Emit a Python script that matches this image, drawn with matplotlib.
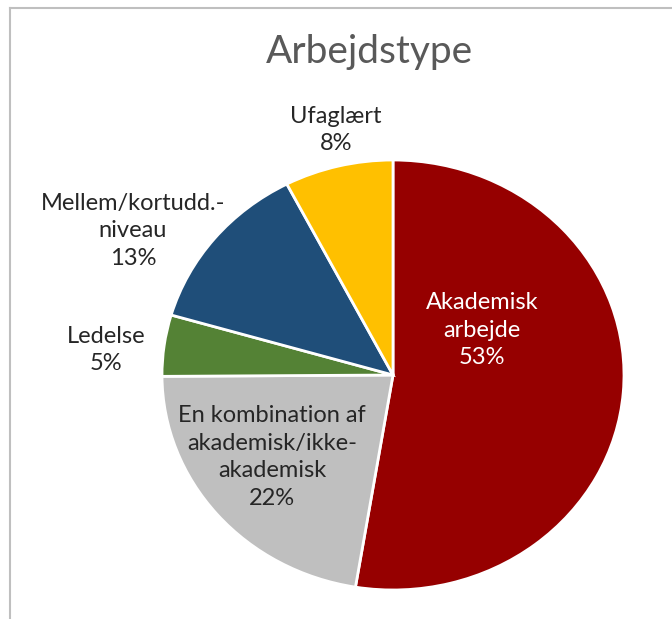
import matplotlib.pyplot as plt
from matplotlib.lines import Line2D

# data
categories = ['Akademisk\narbejde', 'En kombination af\nakademisk/ikke-\nakademisk', 'Ledelse',
              'Mellem/kortudd.-\nniveau', 'Ufaglært']
shares = [52.6, 22.3, 4.6, 12.9, 7.6]
colors = ['#960000', '#BFBFBF', '#548235', '#1F4E79', '#FFC000']
text_colors = ['white', '#262626', '#262626', '#262626', '#262626']
# label centres in axes data units (layout)
label_pos = [(0.385, 0.209), (-0.524, -0.381), (-1.242, 0.116), (-1.126, 0.670), (-0.247, 1.140)]

plt.rcParams['font.family'] = ['Lato', 'DejaVu Sans']

W, H = 672, 619
fig = plt.figure(figsize=(W / 100, H / 100), dpi=100)

# pie is stretched a bit horizontally like in the original
cx, cy, rx, ry = 393, 375, 231, 215
ax = fig.add_axes([(cx - rx) / W, (H - cy - ry) / H, 2 * rx / W, 2 * ry / H])
wedges, _ = ax.pie(shares, colors=colors, startangle=90, counterclock=False, radius=1,
                   wedgeprops=dict(edgecolor='white', linewidth=2))
ax.set_aspect('auto')
ax.set_xlim(-1, 1)
ax.set_ylim(-1, 1)
ax.axis('off')

total = sum(shares)
for lab, val, pos, tc in zip(categories, shares, label_pos, text_colors):
    ax.text(pos[0], pos[1], '{}\n{:.0f}%'.format(lab, val / total * 100), ha='center', va='center',
            fontsize=17, color=tc, linespacing=1.38)

fig.text(369.5 / W, 1 - 52 / H, 'Arbejdstype', ha='center', va='center', fontsize=28, color='#595959')

# chart frame (only top and left visible in the crop)
fig.add_artist(Line2D([10 / W, 1], [1 - 8 / H, 1 - 8 / H], transform=fig.transFigure, color='#BFBFBF', lw=1.5))
fig.add_artist(Line2D([10 / W, 10 / W], [0, 1 - 8 / H], transform=fig.transFigure, color='#BFBFBF', lw=1.5))

fig.savefig('out.png', dpi=100)
